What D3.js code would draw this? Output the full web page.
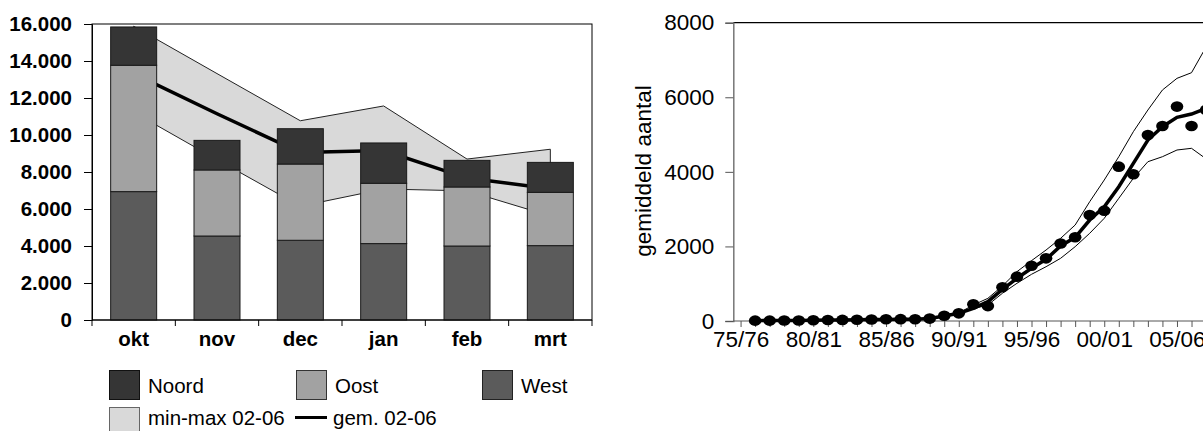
<!DOCTYPE html>
<html>
<head>
<meta charset="utf-8">
<script src="https://cdn.jsdelivr.net/npm/d3@7"></script>
<style>
  html, body { margin: 0; padding: 0; background: #fff; }
  svg { display: block; font-family: "Liberation Sans", Arial, sans-serif; }
</style>
</head>
<body>
<svg id="chart" width="1203" height="431"></svg>
<script>
// ---------- Left chart data ----------
const months = ["okt", "nov", "dec", "jan", "feb", "mrt"];
const west  = [6940, 4540, 4310, 4130, 4000, 4020];
const oost  = [6830, 3570, 4120, 3260, 3190, 2880];
const noord = [2070, 1600, 1910, 2180, 1440, 1620];
const minMax0206 = [11230, 8670, 6150, 7080, 6980, 5620];
const maxMax0206 = [15880, 13320, 10770, 11570, 8700, 9230];
const gem0206    = [13320, 11150, 9050, 9160, 7670, 7100];
const leftTicks = [0, 2000, 4000, 6000, 8000, 10000, 12000, 14000, 16000];
const regions = ["West", "Oost", "Noord"];

// ---------- Right chart data ----------
const seasons = ["75/76","76/77","77/78","78/79","79/80","80/81","81/82","82/83","83/84","84/85",
  "85/86","86/87","87/88","88/89","89/90","90/91","91/92","92/93","93/94","94/95",
  "95/96","96/97","97/98","98/99","99/00","00/01","01/02","02/03","03/04","04/05",
  "05/06","06/07","07/08","08/09"];
const seasonLabels = ["75/76","80/81","85/86","90/91","95/96","00/01","05/06"];
const countSeasons = seasons.slice(1, 33);
const counts = [10, 10, 15, 15, 20, 25, 30, 35, 40, 45,
  50, 45, 65, 140, 205, 447, 400, 905, 1190, 1480,
  1680, 2080, 2245, 2840, 2960, 4140, 3935, 4990, 5230, 5750,
  5230, 5660];
const runMean = [10, 12, 14, 16, 19, 24, 29, 34, 39, 43,
  46, 50, 70, 135, 206, 340, 518, 850, 1145, 1413,
  1655, 2011, 2244, 2708, 3065, 3602, 4229, 4854, 5211, 5463,
  5551, 5700];
const runUpper = [12, 14, 16, 18, 21, 26, 31, 36, 41, 46,
  49, 54, 78, 148, 215, 429, 608, 939, 1323, 1618,
  1904, 2217, 2574, 3199, 3781, 4406, 5077, 5658, 6195, 6508,
  6659, 7350];
const runLower = [8, 10, 12, 14, 17, 22, 27, 32, 37, 40,
  43, 46, 62, 122, 195, 330, 429, 743, 1011, 1252,
  1456, 1681, 1993, 2352, 2754, 3290, 3827, 4272, 4406, 4586,
  4631, 4349];
const rightTicks = [0, 2000, 4000, 6000, 8000];

const svg = d3.select("#chart");

// =============== LEFT CHART ===============
const colors = { Noord: "#353535", Oost: "#a2a2a2", West: "#5b5b5b" };
const L = { x0: 92, x1: 592, y0: 24, y1: 320 };
const yL = d3.scaleLinear().domain([0, 16000]).range([L.y1, L.y0]);
const xL = d3.scaleBand().domain(months).range([L.x0, L.x1]).paddingInner(0.448).paddingOuter(0.224);
const xEdge = d3.scaleLinear().domain([0, months.length]).range([L.x0, L.x1]);
const cx = m => xL(m) + xL.bandwidth() / 2;

const gL = svg.append("g");

// frame
gL.append("rect").attr("x", L.x0).attr("y", L.y0).attr("width", L.x1 - L.x0).attr("height", L.y1 - L.y0)
  .attr("fill", "#fff").attr("stroke", "#000").attr("stroke-width", 1);

// min-max band
const bandData = months.map((m, i) => ({ m, lo: minMax0206[i], hi: maxMax0206[i] }));
gL.append("path").datum(bandData)
  .attr("d", d3.area().x(d => cx(d.m)).y0(d => yL(d.lo)).y1(d => yL(d.hi)))
  .attr("fill", "#d9d9d9").attr("stroke", "#222").attr("stroke-width", 1);

// mean line
gL.append("path").datum(months.map((m, i) => ({ m, v: gem0206[i] })))
  .attr("d", d3.line().x(d => cx(d.m)).y(d => yL(d.v)))
  .attr("fill", "none").attr("stroke", "#000").attr("stroke-width", 3.5);

// stacked bars
const tableRows = months.map((m, i) => ({ m, West: west[i], Oost: oost[i], Noord: noord[i] }));
const stacked = d3.stack().keys(regions)(tableRows);
gL.append("g").selectAll("g").data(stacked).join("g")
  .attr("fill", d => colors[d.key])
  .selectAll("rect").data(d => d).join("rect")
  .attr("x", d => xL(d.data.m))
  .attr("width", xL.bandwidth())
  .attr("y", d => yL(d[1]))
  .attr("height", d => yL(d[0]) - yL(d[1]))
  .attr("stroke", "#1a1a1a").attr("stroke-width", 1);

// y axis
const fmt = d3.formatLocale({ decimal: ",", thousands: ".", grouping: [3], currency: ["", ""] }).format(",");
const axL = gL.append("g").attr("transform", `translate(${L.x0},0)`)
  .call(d3.axisLeft(yL).tickValues(leftTicks).tickSize(8).tickPadding(12).tickFormat(fmt));
axL.select(".domain").attr("stroke", "#000");
axL.selectAll(".tick line").attr("stroke", "#000");
axL.selectAll("text").attr("font-size", 20.5).attr("font-weight", "bold").attr("fill", "#000")
  .attr("font-family", "Liberation Sans, Arial, sans-serif");

// x axis
gL.append("line").attr("x1", L.x0).attr("x2", L.x1).attr("y1", L.y1).attr("y2", L.y1).attr("stroke", "#000");
gL.append("g").selectAll("line").data(d3.range(months.length + 1)).join("line")
  .attr("x1", d => xEdge(d)).attr("x2", d => xEdge(d)).attr("y1", L.y1).attr("y2", L.y1 + 6)
  .attr("stroke", "#000");
gL.append("g").selectAll("text").data(months).join("text")
  .attr("x", d => cx(d)).attr("y", 346).attr("text-anchor", "middle")
  .attr("font-size", 20.5).attr("font-weight", "bold").text(d => d);

// legend
const legendItems = [
  { label: "Noord", fill: colors.Noord, x: 109, y: 370, ty: 392.5, stroke: "#111" },
  { label: "Oost", fill: colors.Oost, x: 296, y: 370, ty: 392.5, stroke: "#333" },
  { label: "West", fill: colors.West, x: 482, y: 370, ty: 392.5, stroke: "#222" },
  { label: "min-max 02-06", fill: "#d9d9d9", x: 109, y: 407, ty: 425, stroke: "#666" }
];
const lg = gL.append("g");
legendItems.forEach(it => {
  lg.append("rect").attr("x", it.x + 0.5).attr("y", it.y + 0.5).attr("width", 30).attr("height", 29)
    .attr("fill", it.fill).attr("stroke", it.stroke).attr("stroke-width", 1);
  lg.append("text").attr("x", it.x + 39).attr("y", it.ty).attr("font-size", 20.5).text(it.label);
});
lg.append("line").attr("x1", 295).attr("x2", 327).attr("y1", 417.5).attr("y2", 417.5)
  .attr("stroke", "#000").attr("stroke-width", 3);
lg.append("text").attr("x", 333).attr("y", 425).attr("font-size", 20.5).text("gem. 02-06");

// =============== RIGHT CHART ===============
const R = { x0: 733.3, y0: 22.7, y1: 321 };
const step = 14.547;
const xR = d3.scalePoint().domain(seasons).range([R.x0, R.x0 + step * seasons.length]).padding(0.5);
const yR = d3.scaleLinear().domain([0, 8000]).range([R.y1, R.y0]);
const gR = svg.append("g");

// top border
gR.append("line").attr("x1", R.x0).attr("x2", 1300).attr("y1", R.y0).attr("y2", R.y0)
  .attr("stroke", "#000").attr("stroke-width", 1.2);

// y axis
const axR = gR.append("g").attr("transform", `translate(${R.x0},0)`)
  .call(d3.axisLeft(yR).tickValues(rightTicks).tickSize(8).tickPadding(11).tickFormat(d3.format("d")));
axR.select(".domain").attr("stroke", "#777").attr("stroke-width", 1.5);
axR.selectAll(".tick line").attr("stroke", "#555");
axR.selectAll("text").attr("font-size", 22.5).attr("fill", "#000")
  .attr("font-family", "Liberation Sans, Arial, sans-serif");

// x axis
const axX = gR.append("g").attr("transform", `translate(0,${R.y1})`)
  .call(d3.axisBottom(xR).tickSize(6).tickPadding(4).tickFormat(d => seasonLabels.includes(d) ? d : ""));
axX.select(".domain").attr("stroke", "#555").attr("d", `M${R.x0},0H1300`);
axX.selectAll(".tick line").attr("stroke", "#555");
axX.selectAll("text").attr("font-size", 22.5).attr("fill", "#000").attr("dy", "0.72em")
  .attr("font-family", "Liberation Sans, Arial, sans-serif");

// y label
gR.append("text").attr("transform", `translate(651,171) rotate(-90)`).attr("text-anchor", "middle")
  .attr("font-size", 22.5).text("gemiddeld aantal");

// envelope lines
const lineR = d3.line().x(d => xR(d.s)).y(d => yR(d.v));
const mk = arr => countSeasons.map((s, i) => ({ s, v: arr[i] }));
gR.append("path").datum(mk(runUpper)).attr("d", lineR).attr("fill", "none").attr("stroke", "#000").attr("stroke-width", 1);
gR.append("path").datum(mk(runLower)).attr("d", lineR).attr("fill", "none").attr("stroke", "#000").attr("stroke-width", 1);
gR.append("path").datum(mk(runMean)).attr("d", lineR).attr("fill", "none").attr("stroke", "#000").attr("stroke-width", 3.5);

// dots
gR.append("g").selectAll("ellipse").data(mk(counts)).join("ellipse")
  .attr("cx", d => xR(d.s)).attr("cy", d => yR(d.v)).attr("rx", 6.3).attr("ry", 5.3).attr("fill", "#000");
</script>
</body>
</html>
